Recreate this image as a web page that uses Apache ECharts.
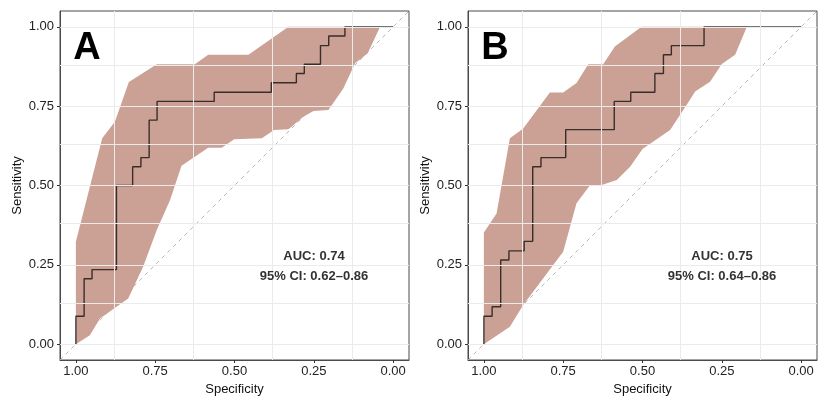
<!DOCTYPE html>
<html><head><meta charset="utf-8">
<script src="https://cdn.jsdelivr.net/npm/echarts@6/dist/echarts.min.js"></script>
<style>html,body{margin:0;padding:0;background:#fff}#c{width:831px;height:402px}</style>
</head><body><div id="c"></div>
<script>
// ---- data ----
const tickValues = [0, 0.25, 0.5, 0.75, 1];
const gridXValues = [0.875, 0.625, 0.375, 0.125];
const gridYValues = [0, 0.125, 0.25, 0.375, 0.5, 0.625, 0.75, 0.875, 1];
const diagonal = [[1.05, -0.05], [-0.05, 1.05]];

// Panel A ROC curve (specificity, sensitivity)
const specA = [1, 1, 0.974, 0.949, 0.872, 0.821, 0.795, 0.769, 0.744, 0.564, 0.384, 0.305, 0.280, 0.229, 0.203, 0.152, 0];
const sensA = [0, 0.088, 0.206, 0.235, 0.500, 0.559, 0.588, 0.706, 0.765, 0.794, 0.824, 0.853, 0.882, 0.941, 0.971, 1.0, 1.0];
// Panel A confidence band
const upperA = [[1.0, 0.323], [0.917, 0.649], [0.877, 0.701], [0.833, 0.826], [0.745, 0.882], [0.625, 0.882], [0.583, 0.912], [0.456, 0.912], [0.330, 1.0], [0.041, 1.0]];
const lowerA = [[1.0, 0], [0.956, 0.028], [0.924, 0.081], [0.914, 0.088], [0.835, 0.144], [0.788, 0.244], [0.745, 0.36], [0.703, 0.454], [0.682, 0.517], [0.667, 0.562], [0.583, 0.619], [0.540, 0.619], [0.501, 0.646], [0.414, 0.649], [0.375, 0.675], [0.330, 0.677], [0.283, 0.717], [0.251, 0.735], [0.204, 0.738], [0.157, 0.806], [0.120, 0.885], [0.080, 0.917], [0.041, 1.0]];

// Panel B ROC curve
const specB = [1, 1, 0.974, 0.947, 0.921, 0.873, 0.846, 0.820, 0.742, 0.589, 0.537, 0.461, 0.434, 0.409, 0.306, 0];
const sensB = [0, 0.088, 0.118, 0.265, 0.294, 0.324, 0.559, 0.588, 0.676, 0.765, 0.794, 0.853, 0.912, 0.941, 1.0, 1.0];
// Panel B confidence band
const upperB = [[1.0, 0.352], [0.96, 0.412], [0.918, 0.649], [0.876, 0.680], [0.792, 0.793], [0.750, 0.793], [0.708, 0.823], [0.671, 0.882], [0.624, 0.882], [0.587, 0.938], [0.503, 1.0], [0.171, 1.0]];
const lowerB = [[1.0, 0], [0.918, 0.055], [0.876, 0.123], [0.75, 0.291], [0.708, 0.444], [0.666, 0.5], [0.626, 0.502], [0.581, 0.517], [0.539, 0.559], [0.500, 0.615], [0.413, 0.675], [0.361, 0.754], [0.334, 0.796], [0.287, 0.827], [0.250, 0.883], [0.208, 0.912], [0.171, 1.0]];

const panelLabels = ['A', 'B'];
const aucLabels = ['AUC: 0.74', 'AUC: 0.75'];
const ciLabels = ['95% CI: 0.62\u20130.86', '95% CI: 0.64\u20130.86'];

// ---- build ----
const FONT = '"Liberation Sans", Arial, Helvetica, sans-serif';
const bandColor = '#cca195';
const borderColor = '#4a4a4a';
const panels = [
  {spec: specA, sens: sensA, upper: upperA, lower: lowerA, grid: {left: 60, right: 422, top: 11, bottom: 42}, letterX: 87, textX: 314},
  {spec: specB, sens: sensB, upper: upperB, lower: lowerB, grid: {left: 468, right: 14, top: 11, bottom: 42}, letterX: 495, textX: 722}
];

const grids = [], xAxes = [], yAxes = [], series = [], graphics = [];
panels.forEach((p, i) => {
  grids.push(Object.assign({show: true, borderColor: borderColor, borderWidth: 1, backgroundColor: 'transparent'}, p.grid));
  xAxes.push({
    type: 'value', gridIndex: i, min: -0.05, max: 1.05, inverse: true, position: 'bottom',
    axisLine: {show: true, onZero: false, lineStyle: {color: borderColor, width: 1}}, splitLine: {show: false},
    axisTick: {show: true, inside: false, length: 3, customValues: tickValues, lineStyle: {color: '#333'}},
    axisLabel: {customValues: tickValues, formatter: v => v.toFixed(2), fontSize: 13, color: '#222', margin: 5, fontFamily: FONT},
    name: 'Specificity', nameLocation: 'middle', nameGap: 20,
    nameTextStyle: {fontSize: 13, color: '#111', fontFamily: FONT}
  });
  yAxes.push({
    type: 'value', gridIndex: i, min: -0.05, max: 1.05, position: 'left',
    axisLine: {show: true, onZero: false, lineStyle: {color: borderColor, width: 1}}, splitLine: {show: false},
    axisTick: {show: true, inside: false, length: 3, customValues: tickValues, lineStyle: {color: '#333'}},
    axisLabel: {customValues: tickValues, formatter: v => v.toFixed(2), fontSize: 13, color: '#222', margin: 6, fontFamily: FONT},
    name: 'Sensitivity', nameLocation: 'middle', nameGap: 36, nameRotate: 90,
    nameTextStyle: {fontSize: 13, color: '#111', fontFamily: FONT}
  });
  // grid lines
  series.push({
    type: 'line', xAxisIndex: i, yAxisIndex: i, data: [], z: 0, silent: true,
    markLine: {
      silent: true, symbol: ['none', 'none'], animation: false,
      label: {show: false},
      lineStyle: {color: '#ebebeb', type: 'solid', width: 1},
      data: gridYValues.map(v => ({yAxis: v})).concat(gridXValues.map(v => ({xAxis: v})))
    }
  });
  // diagonal
  series.push({
    type: 'line', xAxisIndex: i, yAxisIndex: i, data: diagonal, z: 1, silent: true,
    symbol: 'none', showSymbol: false, animation: false,
    lineStyle: {color: '#b8b8b8', width: 1, type: [4, 4]}
  });
  // band polygon
  const poly = p.upper.concat(p.lower.slice().reverse());
  series.push({
    type: 'custom', xAxisIndex: i, yAxisIndex: i, data: poly, z: 2, silent: true, animation: false,
    renderItem: (params, api) => {
      if (params.dataIndex !== 0) return null;
      return {type: 'polygon', shape: {points: poly.map(pt => api.coord(pt))}, style: {fill: bandColor}};
    }
  });
  // ROC curve
  series.push({
    type: 'line', xAxisIndex: i, yAxisIndex: i, z: 3, silent: true, animation: false,
    step: 'end', symbol: 'none', showSymbol: false,
    data: p.spec.map((s, k) => [s, p.sens[k]]),
    lineStyle: {color: 'rgba(0,0,0,0.72)', width: 1.4}
  });
  graphics.push({type: 'text', x: p.letterX, y: 49, z: 10,
    style: {text: panelLabels[i], font: 'bold 38px ' + FONT, fill: '#000', textAlign: 'center', textVerticalAlign: 'middle'}});
  graphics.push({type: 'text', x: p.textX, y: 256, z: 10,
    style: {text: aucLabels[i], font: 'bold 13px ' + FONT, fill: '#333', textAlign: 'center', textVerticalAlign: 'middle'}});
  graphics.push({type: 'text', x: p.textX, y: 276, z: 10,
    style: {text: ciLabels[i], font: 'bold 13px ' + FONT, fill: '#333', textAlign: 'center', textVerticalAlign: 'middle'}});
});

const chart = echarts.init(document.getElementById('c'), null, {renderer: 'canvas'});
chart.setOption({
  animation: false,
  backgroundColor: '#fff',
  grid: grids, xAxis: xAxes, yAxis: yAxes, series: series, graphic: graphics
});
</script></body></html>
